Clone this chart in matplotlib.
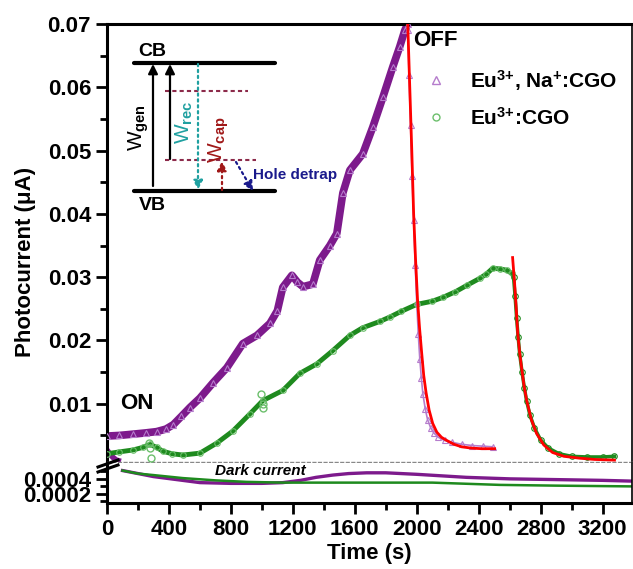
import matplotlib
matplotlib.use('Agg')
import matplotlib.pyplot as plt
from matplotlib.lines import Line2D
from matplotlib.ticker import FixedLocator, MultipleLocator

plt.rcParams['font.family'] = ['Liberation Sans', 'DejaVu Sans']
plt.rcParams['mathtext.fontset'] = 'custom'
plt.rcParams['mathtext.rm'] = 'Liberation Sans:bold'
plt.rcParams['mathtext.it'] = 'Liberation Sans:bold:italic'
plt.rcParams['mathtext.bf'] = 'Liberation Sans:bold'
plt.rcParams['mathtext.default'] = 'rm'

# ---------------- data ----------------
# Eu3+, Na+:CGO  (purple) - light ON rise
na_rise_t = [0, 80, 168, 250, 320, 380, 428, 480, 535, 600, 684, 774, 877, 968, 1052, 1100,
             1135, 1194, 1230, 1265, 1329, 1374, 1439, 1484, 1523, 1568, 1652, 1716, 1781,
             1845, 1890, 1923, 1942]
na_rise_v = [0.0049, 0.0050, 0.0052, 0.0054, 0.0056, 0.0060, 0.0067, 0.0080, 0.0094, 0.0109,
             0.0133, 0.0157, 0.0195, 0.0208, 0.0227, 0.0247, 0.0284, 0.0303, 0.0292, 0.0285,
             0.0289, 0.0327, 0.0350, 0.0369, 0.0433, 0.0469, 0.0495, 0.0537, 0.0584, 0.0632,
             0.0664, 0.0690, 0.0700]
# purple - light OFF decay
na_decay_t = [1942, 1950, 1960, 1970, 1980, 1990, 2000, 2010, 2020, 2030, 2040, 2055, 2070,
              2090, 2110, 2140, 2180, 2230, 2290, 2360, 2430, 2490]
na_decay_v = [0.069, 0.062, 0.054, 0.046, 0.039, 0.032, 0.026, 0.021, 0.017, 0.014, 0.0115,
              0.0092, 0.0075, 0.0062, 0.0054, 0.0047, 0.0042, 0.0039, 0.0036, 0.0034, 0.0033,
              0.0032]
# red fit on purple decay
na_fit_t = [1942, 1955, 1968, 1980, 1992, 2005, 2018, 2032, 2045, 2060, 2080, 2103, 2130,
            2160, 2194, 2240, 2290, 2350, 2420, 2503]
na_fit_v = [0.0700, 0.0600, 0.0500, 0.0400, 0.0330, 0.0265, 0.0220, 0.0180, 0.0145, 0.0118,
            0.0090, 0.0069, 0.0055, 0.0047, 0.0042, 0.0036, 0.0032, 0.0030, 0.0029, 0.0029]
# purple dark current start (upper panel)
na_dark0_t = [0, 20, 40, 60, 90]
na_dark0_v = [0.0027, 0.0020, 0.0015, 0.0011, 0.0009]

# Eu3+:CGO (green) - light ON rise
eu_rise_t = [0, 80, 168, 230, 277, 320, 361, 420, 490, 600, 710, 813, 923, 1006, 1135, 1245,
             1355, 1458, 1568, 1650, 1761, 1826, 1900, 2000, 2100, 2168, 2250, 2323, 2406,
             2450, 2490, 2540, 2581, 2613]
eu_rise_v = [0.0021, 0.0024, 0.0027, 0.0031, 0.0036, 0.0031, 0.0025, 0.0021, 0.0019, 0.0022,
             0.0038, 0.0057, 0.0084, 0.0105, 0.0121, 0.0148, 0.0163, 0.0184, 0.0208, 0.0220,
             0.0230, 0.0237, 0.0246, 0.0257, 0.0262, 0.0268, 0.0277, 0.0287, 0.0298, 0.0305,
             0.0314, 0.0313, 0.0311, 0.0306]
eu_out_t = [270, 280, 285, 995, 1005, 1010]
eu_out_v = [0.0038, 0.0030, 0.0014, 0.0115, 0.0100, 0.0093]
# green - light OFF decay
eu_decay_t = [2625, 2635, 2645, 2655, 2665, 2680, 2695, 2710, 2730, 2760, 2800, 2850, 2920,
              3000, 3100, 3200, 3277]
eu_decay_v = [0.0300, 0.0270, 0.0235, 0.0205, 0.0178, 0.0150, 0.0125, 0.0104, 0.0083, 0.0062,
              0.0043, 0.0030, 0.0021, 0.0017, 0.0016, 0.0016, 0.0017]
eu_fit_t = [2619, 2632, 2645, 2652, 2665, 2677, 2693, 2710, 2740, 2774, 2820, 2877, 2950,
            3052, 3150, 3277]
eu_fit_v = [0.0331, 0.0290, 0.0240, 0.0211, 0.0180, 0.0157, 0.0128, 0.0105, 0.0075, 0.0053,
            0.0035, 0.0023, 0.0017, 0.0014, 0.0012, 0.0011]

# dark currents (lower panel)
na_dark_t = [100, 200, 300, 450, 600, 800, 1000, 1135, 1250, 1350, 1458, 1560, 1677, 1800,
             2000, 2320, 2600, 2900, 3200, 3390]
na_dark_v = [0.00051, 0.00047, 0.00043, 0.00039, 0.00035, 0.00034, 0.00034, 0.00035, 0.00038,
             0.00042, 0.00045, 0.00047, 0.00048, 0.00048, 0.00046, 0.00042, 0.00040, 0.00039,
             0.00038, 0.00037]
eu_dark_t = [100, 200, 300, 490, 700, 900, 1135, 1400, 1800, 2100, 2535, 2900, 3390]
eu_dark_v = [0.00051, 0.00047, 0.00045, 0.00041, 0.00038, 0.00036, 0.00035, 0.00035, 0.00035,
             0.00035, 0.00032, 0.00031, 0.00030]

upper_ticks = [0.01, 0.02, 0.03, 0.04, 0.05, 0.06, 0.07]
upper_labels = ['0.01', '0.02', '0.03', '0.04', '0.05', '0.06', '0.07']
lower_ticks = [0.0002, 0.0004]
lower_labels = ['0.0002', '0.0004']
x_ticks = [0, 400, 800, 1200, 1600, 2000, 2400, 2800, 3200]

PURPLE = '#7d1a8c'
PURPLE_L = '#b57ccc'
GREEN = '#1e8a1e'
GREEN_L = '#6cbf6c'

# ---------------- figure ----------------
W, H = 633, 569
fig = plt.figure(figsize=(6.33, 5.69), dpi=100)


def rect(x0, y0, x1, y1):
    return [x0 / W, 1 - y1 / H, (x1 - x0) / W, (y1 - y0) / H]


ax = fig.add_axes(rect(107, 24, 632, 462))
axl = fig.add_axes(rect(107, 463, 632, 503), sharex=ax)

# upper panel
ax.plot(na_dark0_t, na_dark0_v, color=PURPLE, lw=4, solid_capstyle='butt')
ax.plot(na_rise_t, na_rise_v, color=PURPLE, lw=5.5, zorder=2)
ax.plot(na_rise_t, na_rise_v, ls='none', marker='^', ms=5, mfc='none', mec=PURPLE_L, mew=0.8, zorder=3)
ax.plot(na_decay_t, na_decay_v, color=PURPLE_L, lw=1.2, marker='^', ms=4, mfc='none',
        mec=PURPLE_L, mew=0.8, zorder=3)
ax.plot(eu_rise_t, eu_rise_v, color=GREEN, lw=3.5, zorder=2)
ax.plot(eu_rise_t, eu_rise_v, ls='none', marker='o', ms=4, mfc='none', mec=GREEN_L, mew=0.8, zorder=3)
ax.plot(eu_out_t, eu_out_v, ls='none', marker='o', ms=5, mfc='none', mec=GREEN_L, mew=1, zorder=3)
ax.plot(eu_decay_t, eu_decay_v, color=GREEN, lw=2.5, marker='o', ms=4, mfc='none',
        mec=GREEN, mew=0.8, zorder=3)
ax.plot(na_fit_t, na_fit_v, color='red', lw=2, zorder=4)
ax.plot(eu_fit_t, eu_fit_v, color='red', lw=2, zorder=4)

ax.set_xlim(0, 3390)
ax.set_ylim(0.0008, 0.07)
ax.yaxis.set_major_locator(FixedLocator(upper_ticks))
ax.set_yticklabels(upper_labels)
ax.yaxis.set_minor_locator(MultipleLocator(0.005))
ax.tick_params(axis='y', which='major', direction='out', length=8, width=2, labelsize=16)
ax.tick_params(axis='y', which='minor', direction='out', length=5, width=2)
ax.tick_params(axis='x', which='both', bottom=False, labelbottom=False)
for lab in ax.get_yticklabels():
    lab.set_fontweight('bold')
for s in ['top', 'left', 'right']:
    ax.spines[s].set_linewidth(2.2)
ax.spines['right'].set_linewidth(1.2)
ax.spines['bottom'].set_linestyle((0, (2, 2)))
ax.spines['bottom'].set_color('#888888')
ax.spines['bottom'].set_linewidth(1)

# lower panel
axl.plot(na_dark_t, na_dark_v, color=PURPLE, lw=2.4)
axl.plot(eu_dark_t, eu_dark_v, color=GREEN, lw=1.8)
axl.set_ylim(0.00008, 0.00061)
axl.yaxis.set_major_locator(FixedLocator(lower_ticks))
axl.set_yticklabels(lower_labels)
axl.yaxis.set_minor_locator(FixedLocator([0.0001, 0.0003, 0.0005]))
axl.xaxis.set_major_locator(FixedLocator(x_ticks))
axl.xaxis.set_minor_locator(MultipleLocator(200))
axl.set_xticklabels([str(v) for v in x_ticks])
axl.tick_params(which='major', direction='out', length=8, width=2, labelsize=16)
axl.tick_params(which='minor', direction='out', length=5, width=2)
for lab in axl.get_yticklabels() + axl.get_xticklabels():
    lab.set_fontweight('bold')
axl.spines['top'].set_visible(False)
for s in ['bottom', 'left']:
    axl.spines[s].set_linewidth(2.2)
axl.spines['right'].set_linewidth(1.2)
axl.set_xlabel('Time (s)', fontsize=16, fontweight='bold', labelpad=2)

fig.text(26 / W, 1 - 262 / H, 'Photocurrent (\u03bcA)', rotation=90, fontsize=16,
         fontweight='bold', ha='center', va='center')

# legend
handles = [Line2D([], [], ls='none', marker='^', ms=6, mfc='none', mec=PURPLE_L, mew=1),
           Line2D([], [], ls='none', marker='o', ms=5, mfc='none', mec=GREEN_L, mew=1)]
labels = ['Eu$^{3{+}}$, Na$^{+}$:CGO', 'Eu$^{3{+}}$:CGO']
ax.legend(handles, labels, loc='upper left', bbox_to_anchor=((426 - 107) / 525, (462 - 68) / 438),
          frameon=False, prop={'size': 15, 'weight': 'bold'}, handlelength=1.0,
          handletextpad=1.1, labelspacing=0.65, borderpad=0, borderaxespad=0)

# ---------------- overlay: annotations & inset diagram ----------------
ov = fig.add_axes([0, 0, 1, 1], facecolor='none')
ov.set_xlim(0, W)
ov.set_ylim(H, 0)
ov.axis('off')

ov.text(137, 403, 'ON', fontsize=16, fontweight='bold', ha='center', va='center')
ov.text(435, 40, 'OFF', fontsize=16, fontweight='bold', ha='center', va='center')
ov.text(260, 471, 'Dark current', fontsize=11, fontweight='bold', style='italic',
        ha='center', va='center')

# axis break marks
ov.plot([98, 118], [467, 460], color='black', lw=2.2, clip_on=False)
ov.plot([98, 118], [472, 465], color='black', lw=2.2, clip_on=False)

# band diagram
ov.plot([134, 275], [63, 63], color='black', lw=3, solid_capstyle='round')
ov.plot([134, 275], [191, 191], color='black', lw=3, solid_capstyle='round')
ov.text(152, 51, 'CB', fontsize=14, fontweight='bold', ha='center', va='center')
ov.text(152, 205, 'VB', fontsize=14, fontweight='bold', ha='center', va='center')

TRAP = '#8c2a4a'
ov.plot([165, 248], [91, 91], color=TRAP, lw=1.5, ls=(0, (2, 1.5)))
ov.plot([165, 256], [160, 160], color=TRAP, lw=1.5, ls=(0, (2, 1.5)))


def arrow(x0, y0, x1, y1, color, ls='-'):
    ov.annotate('', xy=(x1, y1), xytext=(x0, y0),
                arrowprops=dict(arrowstyle='-|>', color=color, lw=1.6, linestyle=ls,
                                mutation_scale=14, shrinkA=0, shrinkB=0))


arrow(153, 186, 153, 64, 'black')
arrow(170, 159, 170, 64, 'black')
arrow(198, 64, 198, 190, '#1fa0a0', ls=':')
arrow(222, 190, 222, 161, '#a01818', ls=':')
arrow(236, 162, 253, 191, '#1a1a8c', ls=':')

ov.text(139, 128, r'W$_{\rm gen}$', rotation=90, fontsize=15, color='black',
        ha='center', va='center')
ov.text(184, 122, r'W$_{\rm rec}$', rotation=90, fontsize=15, color='#1fa0a0',
        ha='center', va='center')
ov.text(219, 140, r'W$_{\rm cap}$', rotation=90, fontsize=15, color='#a01818',
        ha='center', va='center')
ov.text(253, 175, 'Hole detrap', fontsize=11, fontweight='bold', color='#1a1a8c',
        ha='left', va='center')

fig.savefig('out.png', dpi=100)
